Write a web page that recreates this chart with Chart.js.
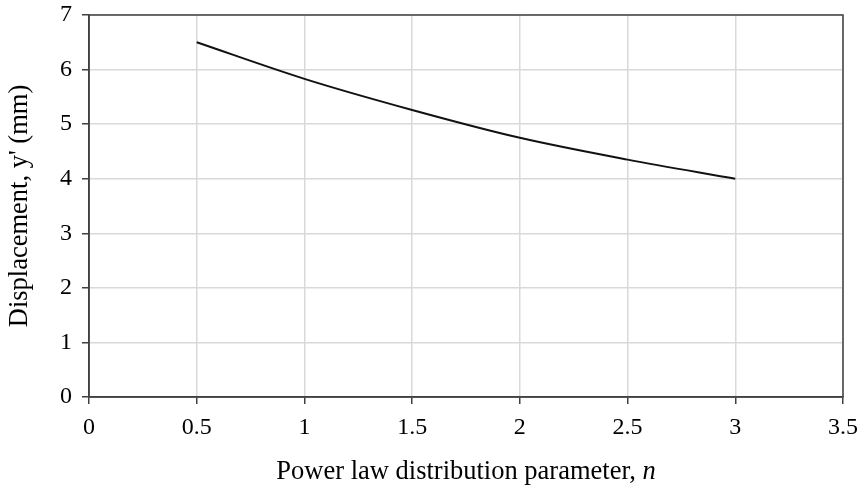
<!DOCTYPE html>
<html>
<head>
<meta charset="utf-8">
<script src="https://cdn.jsdelivr.net/npm/chart.js@4.4.1/dist/chart.umd.min.js"></script>
<style>
  html, body { margin: 0; padding: 0; background: #fff; }
  #wrap { width: 862px; height: 490px; }
</style>
</head>
<body>
<div id="wrap"><canvas id="displacementChart" width="862" height="490"></canvas></div>
<script>
(function () {

    // values
    var nValues = [0.5, 1, 1.5, 2, 2.5, 3];
    var displacement = [6.5, 5.83, 5.26, 4.75, 4.35, 4.0];

    var xTicks = [0, 0.5, 1, 1.5, 2, 2.5, 3, 3.5];
    var yTicks = [0, 1, 2, 3, 4, 5, 6, 7];

    var xTitle = "Power law distribution parameter, ";
    var xTitleItalic = "n";
    var yTitle = "Displacement, y' (mm)";

    var fontFamily = "'Liberation Serif', 'Times New Roman', serif";
    var axisColor = "#404040";
    var gridColor = "#d9d9d9";

    var points = nValues.map(function (n, i) {
        return { x: n, y: displacement[i] };
    });

    // box round the plot area + x title with the italic n
    var framePlugin = {
        id: "frame",
        afterDraw: function (chart) {
            var ctx = chart.ctx;
            var area = chart.chartArea;
            ctx.save();
            ctx.strokeStyle = axisColor;
            ctx.lineWidth = 1.5;
            ctx.strokeRect(area.left, area.top, area.right - area.left, area.bottom - area.top);

            ctx.fillStyle = "#000";
            ctx.textBaseline = "alphabetic";
            var normal = "26.5px " + fontFamily;
            var italic = "italic 26.5px " + fontFamily;
            ctx.font = normal;
            var w1 = ctx.measureText(xTitle).width;
            ctx.font = italic;
            var w2 = ctx.measureText(xTitleItalic).width;
            var cx = (area.left + area.right) / 2;
            var start = cx - (w1 + w2) / 2;
            ctx.font = normal;
            ctx.fillText(xTitle, start, 479);
            ctx.font = italic;
            ctx.fillText(xTitleItalic, start + w1, 479);
            ctx.restore();
        }
    };

    function plainLabel(value) {
        return String(value);
    }

    var ctx = document.getElementById("displacementChart").getContext("2d");

    new Chart(ctx, {
        type: "line",
        data: {
            datasets: [
                {
                    label: "Displacement",
                    data: points,
                    borderColor: "#111",
                    borderWidth: 2,
                    pointRadius: 0,
                    fill: false,
                    cubicInterpolationMode: "monotone"
                }
            ]
        },
        options: {
            responsive: false,
            animation: false,
            layout: { padding: { left: 0, right: 19, top: 15, bottom: 0 } },
            plugins: {
                legend: { display: false },
                tooltip: { enabled: false }
            },
            scales: {
                x: {
                    type: "linear",
                    min: 0,
                    max: 3.5,
                    afterBuildTicks: function (scale) {
                        scale.ticks = xTicks.map(function (v) { return { value: v }; });
                    },
                    afterFit: function (scale) {
                        scale.height = 93;
                        scale.paddingLeft = 0;
                        scale.paddingRight = 0;
                    },
                    grid: {
                        color: gridColor,
                        lineWidth: 1.5,
                        tickColor: axisColor,
                        tickLength: 7,
                        drawTicks: true
                    },
                    border: { display: true, color: axisColor, width: 1.5 },
                    ticks: {
                        color: "#000",
                        padding: 9,
                        maxRotation: 0,
                        callback: plainLabel,
                        font: { family: fontFamily, size: 24 }
                    }
                },
                y: {
                    type: "linear",
                    min: 0,
                    max: 7,
                    afterBuildTicks: function (scale) {
                        scale.ticks = yTicks.map(function (v) { return { value: v }; });
                    },
                    afterFit: function (scale) {
                        scale.width = 89;
                        scale.paddingTop = 0;
                        scale.paddingBottom = 0;
                    },
                    grid: {
                        color: gridColor,
                        lineWidth: 1.5,
                        tickColor: axisColor,
                        tickLength: 7,
                        drawTicks: true
                    },
                    border: { display: true, color: axisColor, width: 1.5 },
                    title: {
                        display: true,
                        text: yTitle,
                        color: "#000",
                        padding: { top: 4, bottom: 0 },
                        font: { family: fontFamily, size: 26.5 }
                    },
                    ticks: {
                        color: "#000",
                        padding: 10,
                        callback: plainLabel,
                        font: { family: fontFamily, size: 24 }
                    }
                }
            }
        },
        plugins: [framePlugin]
    });

})();
</script>
</body>
</html>
